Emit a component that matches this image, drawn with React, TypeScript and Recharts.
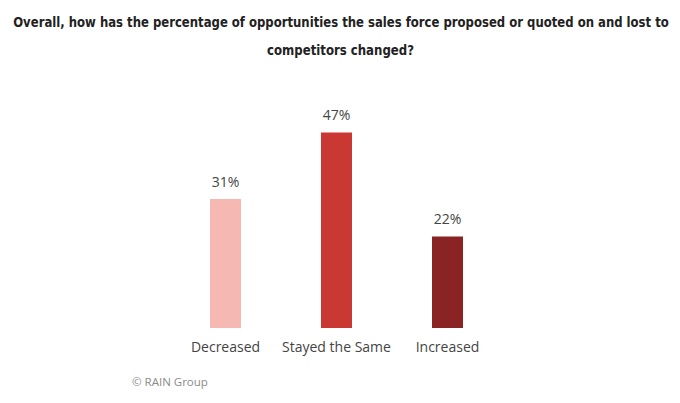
import React, { useLayoutEffect, useRef, useState } from 'react';
import { BarChart, Bar, XAxis, YAxis, Cell, LabelList } from 'recharts';

const categories = ['Decreased', 'Stayed the Same', 'Increased'];
const values = [31, 47, 22];
const colors = ['#F5B8B2', '#C93832', '#8A2424'];
const titleLines = [
  'Overall, how has the percentage of opportunities the sales force proposed or quoted on and lost to',
  'competitors changed?',
];

const data = categories.map((name, i) => ({ name, value: values[i] }));

const titleFont = '"DejaVu Sans Condensed", "Noto Sans", sans-serif';

function FitLine({ text, cx, y, width }: { text: string; cx: number; y: number; width: number }) {
  const ref = useRef<SVGTextElement>(null);
  const [sx, setSx] = useState(1);
  useLayoutEffect(() => {
    if (ref.current) {
      const w = ref.current.getComputedTextLength();
      if (w > 0) setSx(width / w);
    }
  }, [text, width]);
  return (
    <g transform={`translate(${cx},${y}) scale(${sx},1)`}>
      <text
        ref={ref}
        x={0}
        y={0}
        textAnchor="middle"
        fontFamily={titleFont}
        fontWeight="bold"
        fontSize={14.5}
        fill="#222"
      >
        {text}
      </text>
    </g>
  );
}

export default function App() {
  return (
    <div style={{ position: 'absolute', left: 0, top: 0, width: 680, height: 403, background: '#fff' }}>
      <svg width={680} height={70} style={{ position: 'absolute', left: 0, top: 0 }}>
        <FitLine text={titleLines[0]} cx={341} y={27} width={656} />
        <FitLine text={titleLines[1]} cx={340.5} y={55} width={147} />
      </svg>
      <BarChart
        width={680}
        height={403}
        data={data}
        margin={{ top: 120, right: 177, bottom: 45, left: 170 }}
      >
        <YAxis hide domain={[0, 50]} />
        <XAxis
          dataKey="name"
          axisLine={false}
          tickLine={false}
          height={30}
          interval={0}
          tick={{ fill: '#444', fontSize: 14, fontFamily: '"Open Sans", sans-serif' }}
          tickMargin={8}
        />
        <Bar dataKey="value" barSize={31} isAnimationActive={false}>
          {data.map((d, i) => (
            <Cell key={d.name} fill={colors[i]} />
          ))}
          <LabelList
            dataKey="value"
            position="top"
            offset={12}
            formatter={(v: number) => `${v}%`}
            style={{ fill: '#444', fontSize: 14, fontFamily: '"Open Sans", sans-serif' }}
          />
        </Bar>
      </BarChart>
      <div
        style={{
          position: 'absolute',
          left: 132,
          top: 374,
          fontFamily: '"Open Sans", sans-serif',
          fontSize: 11.5,
          color: '#8a8a8a',
        }}
      >
        © RAIN Group
      </div>
    </div>
  );
}
